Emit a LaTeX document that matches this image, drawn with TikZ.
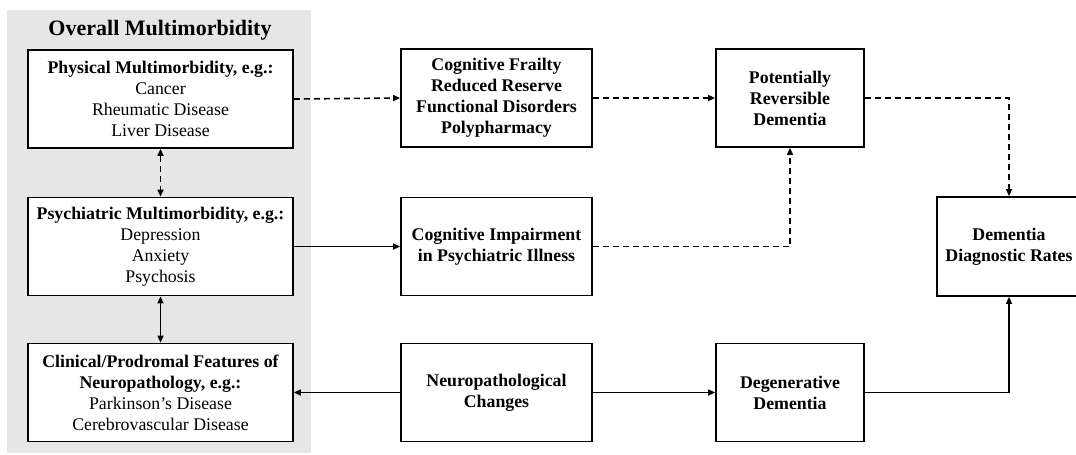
\documentclass[tikz,border=0pt]{standalone}
\usepackage{fontspec}
\setmainfont{Liberation Serif}
\usetikzlibrary{arrows.meta}
\definecolor{bggray}{RGB}{230,230,230}
\begin{document}
\begin{tikzpicture}[x=1pt,y=-1pt,
  >={Triangle[length=7pt,width=6pt]},
  box/.style={draw, line width=1.8pt, align=center, inner sep=0pt,
    font=\fontsize{17.8}{21}\selectfont},
  wbox/.style={box, fill=white, minimum width=265pt, minimum height=98pt},
  mbox/.style={box, minimum width=191pt, minimum height=98pt},
  rbox/.style={box, minimum width=148pt, minimum height=98pt},
  conn/.style={line width=1.6pt, ->},
  dconn/.style={conn, dash pattern=on 6pt off 4pt}]
\useasboundingbox (0,0) rectangle (1076,455);
\fill[bggray] (7,10) rectangle (311,453);
\node[font=\fontsize{22}{26}\selectfont\bfseries] (title) at (160,30) {Overall Multimorbidity};

\node[wbox] (phys) at (160.5,99) {\textbf{Physical Multimorbidity, e.g.:}\\Cancer\\Rheumatic Disease\\Liver Disease};
\node[wbox] (psych) at (160.5,246.5) {\textbf{Psychiatric Multimorbidity, e.g.:}\\Depression\\Anxiety\\Psychosis};
\node[wbox] (clin) at (160.5,392.5) {\textbf{Clinical/Prodromal Features of}\\\textbf{Neuropathology, e.g.:}\\Parkinson’s Disease\\Cerebrovascular Disease};

\node[mbox] (cf) at (496.5,98) {\textbf{Cognitive Frailty}\\\textbf{Reduced Reserve}\\\textbf{Functional Disorders}\\\textbf{Polypharmacy}};
\node[mbox] (ci) at (496.5,246.5) {\textbf{Cognitive Impairment}\\\textbf{in Psychiatric Illness}};
\node[mbox] (nc) at (496.5,392.5) {\textbf{Neuropathological}\\\textbf{Changes}};

\node[rbox] (pr) at (790,98) {\textbf{Potentially}\\\textbf{Reversible}\\\textbf{Dementia}};
\node[rbox] (dd) at (790,392.5) {\textbf{Degenerative}\\\textbf{Dementia}};
\node[box, minimum width=144pt, minimum height=99pt] (ddr) at (1009,246.5) {\textbf{Dementia}\\\textbf{Diagnostic Rates}};

\draw[dconn] (phys.east) -- (cf.west);
\draw[dconn] (cf.east) -- (pr.west);
\draw[dconn] (pr.east) -| (ddr.north);
\draw[dconn] (ci.east) -| (pr.south);
\draw[conn] (psych.east) -- (ci.west);
\draw[dconn, <->] (phys.south) -- (psych.north);
\draw[conn, <->] (psych.south) -- (clin.north);
\draw[conn] (nc.west) -- (clin.east);
\draw[conn] (nc.east) -- (dd.west);
\draw[conn] (dd.east) -| (ddr.south);
\end{tikzpicture}
\end{document}
